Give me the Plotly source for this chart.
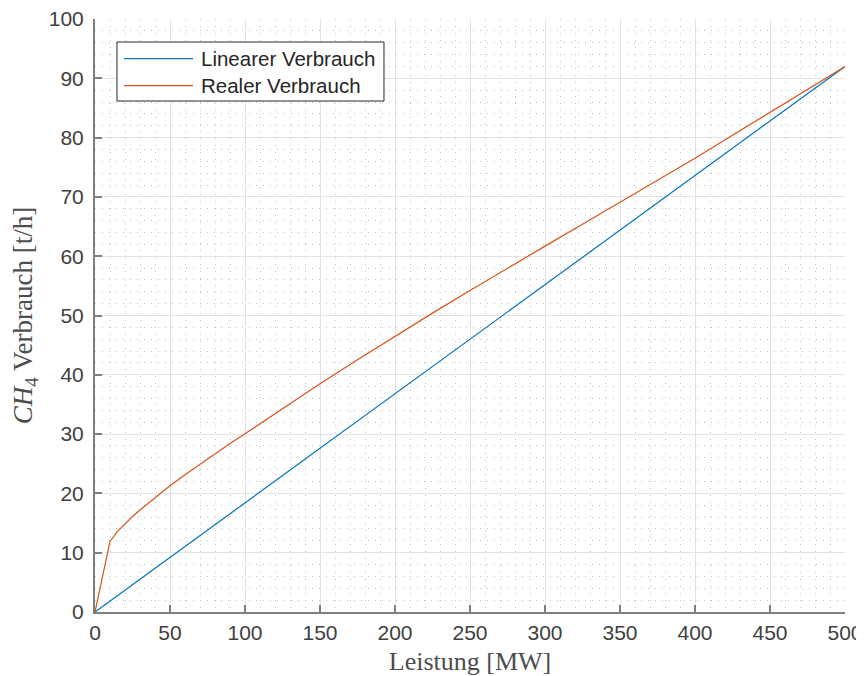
import plotly.graph_objects as go

# Data
leistung_lin = [0, 500]
verbrauch_lin = [0, 92]

leistung_real = [0, 10, 15, 20, 25, 30, 40, 50, 60, 70, 80, 90, 100, 125, 150, 175,
                 200, 225, 250, 275, 300, 325, 350, 375, 400, 425, 450, 475, 500]
verbrauch_real = [0, 11.9, 13.6, 14.9, 16.1, 17.2, 19.3, 21.3, 23.15, 24.95, 26.7, 28.4,
                  30.05, 34.3, 38.5, 42.55, 46.5, 50.4, 54.2, 58.0, 61.7, 65.4, 69.1,
                  72.8, 76.5, 80.4, 84.3, 88.2, 92.0]

series_names = ["Linearer Verbrauch", "Realer Verbrauch"]
series_colors = ["#0072BD", "#D95319"]

x_ticks = [0, 50, 100, 150, 200, 250, 300, 350, 400, 450, 500]
y_ticks = [0, 10, 20, 30, 40, 50, 60, 70, 80, 90, 100]

fig = go.Figure()
fig.add_trace(go.Scatter(x=leistung_lin, y=verbrauch_lin, mode="lines",
                         name=series_names[0], showlegend=False,
                         line=dict(color=series_colors[0], width=1.2)))
fig.add_trace(go.Scatter(x=leistung_real, y=verbrauch_real, mode="lines",
                         name=series_names[1], showlegend=False,
                         line=dict(color=series_colors[1], width=1.2)))

tickfont = dict(family="Liberation Sans, Arial, sans-serif", size=21, color="#404040")
serif = "Liberation Serif, Times New Roman, serif"

axis_common = dict(
    showgrid=True, gridcolor="#e3e3e3", gridwidth=1,
    showline=True, linecolor="#7f7f7f", linewidth=2,
    ticks="inside", ticklen=7, tickwidth=1.5, tickcolor="#7f7f7f",
    tickfont=tickfont, zeroline=False, mirror=False,
    ticklabeloverflow="allow",
)

minor_grid = dict(showgrid=True, gridcolor="#c4c4c4", griddash="1px,6px",
                  gridwidth=1, ticks="")

fig.update_xaxes(range=[0, 500], tickvals=x_ticks, ticktext=[str(v) for v in x_ticks],
                 minor=dict(dtick=10, **minor_grid),
                 ticklabelstandoff=1,
                 title=dict(text="Leistung [MW]",
                            font=dict(family=serif, size=26, color="#4d4d4d"),
                            standoff=9),
                 **axis_common)
fig.update_yaxes(range=[0, 100], tickvals=y_ticks, ticktext=[str(v) for v in y_ticks],
                 minor=dict(dtick=2, **minor_grid),
                 ticklabelstandoff=5,
                 title=dict(text="<i>CH</i><sub>4</sub> Verbrauch [t/h]",
                            font=dict(family=serif, size=27, color="#4d4d4d"),
                            standoff=22),
                 **axis_common)

# Legend box (MATLAB style) drawn in axis-domain coordinates
legend_box = dict(x0=0.0293, x1=0.3853, y0=0.8617, y1=0.9612)
legend_rows_y = [0.9331, 0.8875]
legend_line_x = (0.0387, 0.1307)
legend_text_x = 0.1387

shapes = [dict(type="rect", xref="x domain", yref="y domain",
               fillcolor="white", line=dict(color="#262626", width=1),
               layer="above", **legend_box)]
annotations = []
for name, color, yy in zip(series_names, series_colors, legend_rows_y):
    shapes.append(dict(type="line", xref="x domain", yref="y domain",
                       x0=legend_line_x[0], x1=legend_line_x[1], y0=yy, y1=yy,
                       line=dict(color=color, width=1.2), layer="above"))
    annotations.append(dict(text=name, xref="x domain", yref="y domain",
                            x=legend_text_x, y=yy, xanchor="left", yanchor="middle",
                            showarrow=False,
                            font=dict(family="Liberation Sans, Arial, sans-serif",
                                      size=20.5, color="#262626")))

# the page body has an 8px margin, so the figure is offset by 8px
fig.update_layout(
    width=864, height=676,
    margin=dict(l=87, r=27, t=11, b=72, autoexpand=False),
    paper_bgcolor="white", plot_bgcolor="white",
    showlegend=False,
    shapes=shapes, annotations=annotations,
)

fig.write_html("out.html")
